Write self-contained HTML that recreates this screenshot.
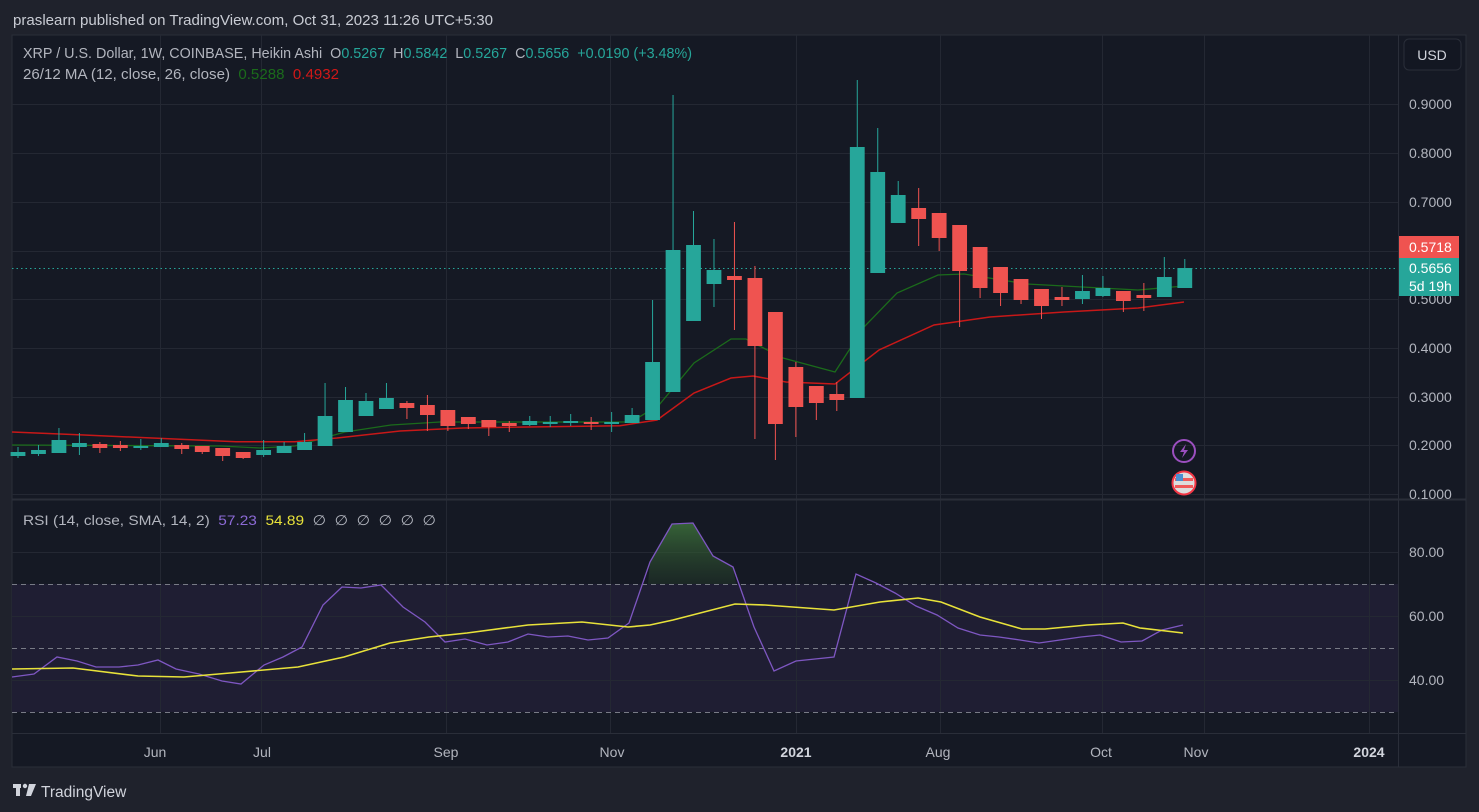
<!DOCTYPE html>
<html><head><meta charset="utf-8"><style>
html,body{margin:0;padding:0;background:#1f222c;width:1479px;height:812px;overflow:hidden}
svg{display:block}
text{font-family:"Liberation Sans",sans-serif;white-space:pre}
</style></head><body>
<svg id="s" width="1479" height="812" xmlns="http://www.w3.org/2000/svg" xml:space="preserve">
<rect x="0" y="0" width="1479" height="812" fill="#1f222c"/>
<text x="13" y="25" font-size="15" fill="#c9ccd4" textLength="480" lengthAdjust="spacingAndGlyphs">praslearn published on TradingView.com, Oct 31, 2023 11:26 UTC+5:30</text>
<rect x="12" y="35" width="1454" height="732" fill="#151924" stroke="#2a2e39"/>
<rect x="12" y="584" width="1386" height="128" fill="#1f1e33"/>
<g id="grid" stroke="#242833" stroke-width="1"></g>
<line x1="12" y1="499.5" x2="1466" y2="499.5" stroke="#2a2e39" stroke-width="2"/>
<line x1="1398.5" y1="35" x2="1398.5" y2="767" stroke="#2a2e39"/>
<line x1="12" y1="733.5" x2="1466" y2="733.5" stroke="#2a2e39"/>
<g stroke="#787b86" stroke-dasharray="5,4" stroke-width="1">
<line x1="12" y1="584.5" x2="1398" y2="584.5"/><line x1="12" y1="648.5" x2="1398" y2="648.5"/><line x1="12" y1="712.5" x2="1398" y2="712.5"/>
</g>
<line x1="12" y1="268.5" x2="1398" y2="268.5" stroke="#26a69a" stroke-dasharray="1.5,3"/>
<g id="ma"></g>
<g id="cd"></g>
<g id="rsi"></g>
<text x="23" y="58" font-size="15" fill="#b2b5be" textLength="669" lengthAdjust="spacingAndGlyphs">XRP / U.S. Dollar, 1W, COINBASE, Heikin Ashi  O<tspan fill="#26a69a">0.5267</tspan>  H<tspan fill="#26a69a">0.5842</tspan>  L<tspan fill="#26a69a">0.5267</tspan>  C<tspan fill="#26a69a">0.5656  +0.0190 (+3.48%)</tspan></text>
<text x="23" y="79" font-size="15" fill="#b2b5be" textLength="316" lengthAdjust="spacingAndGlyphs">26/12 MA (12, close, 26, close)  <tspan fill="#1b6b1b">0.5288</tspan>  <tspan fill="#d01818">0.4932</tspan></text>
<text x="23" y="525" font-size="14" fill="#b2b5be" textLength="413" lengthAdjust="spacingAndGlyphs">RSI (14, close, SMA, 14, 2)  <tspan fill="#8c6ad6">57.23</tspan>  <tspan fill="#e8e23a">54.89</tspan>  <tspan>∅  ∅  ∅  ∅  ∅  ∅</tspan></text>
<rect x="1404" y="39" width="57" height="31" rx="5" fill="#131722" stroke="#2a2e39"/>
<text x="1432" y="60" font-size="14" fill="#d1d4dc" text-anchor="middle">USD</text>
<g font-size="14" fill="#b2b5be" id="pax"></g>
<rect x="1399" y="236" width="60" height="22" fill="#ef5350"/>
<text x="1409" y="252" font-size="14" fill="#fff">0.5718</text>
<rect x="1399" y="258" width="60" height="38" fill="#26a69a"/>
<text x="1409" y="273" font-size="14" fill="#fff">0.5656</text>
<text x="1409" y="291" font-size="14" fill="#fff">5d 19h</text>
<circle cx="1184" cy="451" r="11" fill="none" stroke="#9b4fbf" stroke-width="2"/>
<path d="M1186 444 L1180 452 L1184 452 L1182 458 L1188 450 L1184 450 Z" fill="#9b4fbf"/>
<circle cx="1184" cy="483" r="11.5" fill="#ddd" stroke="#f23645" stroke-width="2"/>
<rect x="1175" y="478" width="18" height="3" fill="#f05a5a"/><rect x="1175" y="485" width="18" height="3" fill="#f05a5a"/>
<rect x="1176" y="474" width="7" height="7" fill="#4a8fd0"/>
<g font-size="14" fill="#b2b5be" text-anchor="middle">
<text x="155" y="757">Jun</text><text x="262" y="757">Jul</text><text x="446" y="757">Sep</text><text x="612" y="757">Nov</text>
<text x="796" y="757" font-weight="bold" fill="#d1d4dc">2021</text><text x="938" y="757">Aug</text><text x="1101" y="757">Oct</text><text x="1196" y="757">Nov</text>
<text x="1369" y="757" font-weight="bold" fill="#d1d4dc">2024</text>
</g>
<g fill="#d1d4dc"><rect x="13" y="784" width="8" height="4"/><rect x="16" y="784" width="4" height="12"/><circle cx="25" cy="786" r="2.2"/><path d="M29 784 L36 784 L31 796 L26 796 Z"/></g>
<text x="41" y="797" font-size="15.5" fill="#d1d4dc">TradingView</text>
</svg>
<script>
const NS="http://www.w3.org/2000/svg";
function el(p,t,a){const e=document.createElementNS(NS,t);for(const k in a)e.setAttribute(k,a[k]);document.getElementById(p).appendChild(e);return e;}
[104,153,202,251,299,348,397,445,494,552,616,680].forEach(y=>el('grid','line',{x1:12,x2:1398,y1:y+.5,y2:y+.5}));
[160,261,446,610,796,940,1102,1204,1369].forEach(x=>el('grid','line',{x1:x+.5,x2:x+.5,y1:35,y2:733}));
const pl=[["0.9000",104],["0.8000",153],["0.7000",202],["0.5000",299],["0.4000",348],["0.3000",397],["0.2000",445],["0.1000",494],["80.00",552],["60.00",616],["40.00",680]];
pl.forEach(([t,y])=>{const e=el('pax','text',{x:1409,y:y+5});e.textContent=t;});
const C=[
[452,456,447,458,'g'],[450,454,445,456,'g'],[440,453,428,453,'g'],[443,447,433,455,'g'],[444,448,442,453,'r'],
[445,448,441,451,'r'],[446,447,439,450,'g'],[443,447,438,447,'g'],[445,449,443,454,'r'],[446,452,446,454,'r'],
[448,456,448,461,'r'],[452,458,452,459,'r'],[450,455,440,457,'g'],[446,453,442,453,'g'],[442,450,433,450,'g'],
[416,446,383,446,'g'],[400,432,387,432,'g'],[401,416,393,416,'g'],[398,409,383,409,'g'],[403,408,401,419,'r'],
[405,415,395,431,'r'],[410,426,410,431,'r'],[417,424,417,429,'r'],[420,427,420,436,'r'],[423,426,421,432,'r'],
[421,425,416,426,'g'],[422,423,416,427,'g'],[421,423,414,426,'g'],[422,424,417,430,'r'],[422,423,412,432,'g'],
[415,423,408,423,'g'],[362,420,300,420,'g'],[250,392,95,392,'g'],[245,321,211,321,'g'],[270,284,239,307,'g'],
[276,280,222,330,'r'],[278,346,266,439,'r'],[312,424,312,460,'r'],[367,407,362,437,'r'],[386,403,386,420,'r'],
[394,400,382,411,'r'],[147,398,80,398,'g'],[172,273,128,273,'g'],[195,223,181,223,'g'],[208,219,188,246,'r'],
[213,238,213,251,'r'],[225,271,225,327,'r'],[247,288,247,298,'r'],[267,293,267,306,'r'],[279,300,279,304,'r'],
[289,306,289,319,'r'],[297,300,287,306,'r'],[291,299,275,304,'g'],[288,296,276,297,'g'],[291,301,291,312,'r'],
[295,298,283,311,'r'],[277,297,257,297,'g'],[268,288,259,288,'g']];
C.forEach((c,i)=>{const x=18+i*20.47;const col=c[4]=='g'?'#26a69a':'#ef5350';
el('cd','line',{x1:x,x2:x,y1:c[2],y2:c[3],stroke:col,'stroke-width':1});
el('cd','rect',{x:x-7.4,y:c[0],width:14.8,height:Math.max(2,c[1]-c[0]),fill:col});});
const g=[[12,445],[220,446],[260,448],[295,446],[345,432],[391,425],[440,422],[631,422],[659,405],[694,363],[731,339],[746,339],[783,358],[835,372],[864,327],[897,293],[938,275],[964,274],[1027,284],[1138,290],[1184,286]];
const r=[[12,432],[84,435],[236,441.7],[295,441.7],[337,438],[400,431],[463,428],[547,426.7],[620,425.7],[657,420],[694,393],[731,378],[753,376],[786,382],[835,384],[879,350],[934,325],[990,317],[1064,312],[1138,308],[1184,302]];
el('ma','polyline',{points:g.map(p=>p.join(',')).join(' '),fill:'none',stroke:'#1b6b1b','stroke-width':1.3});
el('ma','polyline',{points:r.map(p=>p.join(',')).join(' '),fill:'none',stroke:'#c81818','stroke-width':1.5});
const P=[[12,677],[34,674],[57,657],[77,661],[96,667],[119,667],[138,665],[158,660],[176,669],[199,674],[222,681],[241,684],[264,665],[283,657],[302,647],[323,605],[342,587],[361,588],[381,585],[403,607],[425,622],[445,642],[465,639],[487,645],[508,642],[528,634],[548,637],[568,636],[588,640],[608,638],[629,623],[650,562],[672,524],[693,523],[713,556],[733,567],[754,627],[774,671],[796,661],[815,659],[834,657],[856,574],[876,583],[895,593],[916,606],[937,615],[958,628],[980,635],[999,637],[1020,640],[1039,643],[1060,640],[1081,637],[1100,635],[1121,642],[1142,641],[1162,630],[1183,625]];
const Y=[[12,669],[73,668],[138,676],[184,677],[230,673],[298,667],[344,657],[390,643],[429,637],[467,633],[528,625],[582,622],[628,627],[650,625],[673,620],[735,604],[765,605],[834,610],[880,602],[918,598],[941,602],[980,617],[1022,629],[1045,629],[1087,625],[1123,623],[1140,628],[1183,633]];
const defs=el('rsi','defs',{});
const lg=document.createElementNS(NS,'linearGradient');lg.setAttribute('id','gf');lg.setAttribute('x1',0);lg.setAttribute('y1',0);lg.setAttribute('x2',0);lg.setAttribute('y2',1);
lg.innerHTML='<stop offset="0" stop-color="#3a6b3a" stop-opacity="0.9"/><stop offset="1" stop-color="#2a4a2a" stop-opacity="0.3"/>';defs.appendChild(lg);
el('rsi','polygon',{points:'648,584 650,562 672,524 693,523 713,556 733,567 736,584',fill:'url(#gf)'});
el('rsi','polyline',{points:P.map(p=>p.join(',')).join(' '),fill:'none',stroke:'#7e57c2','stroke-width':1.3});
el('rsi','polyline',{points:Y.map(p=>p.join(',')).join(' '),fill:'none',stroke:'#e8e23a','stroke-width':1.6});
</script>
</body></html>
